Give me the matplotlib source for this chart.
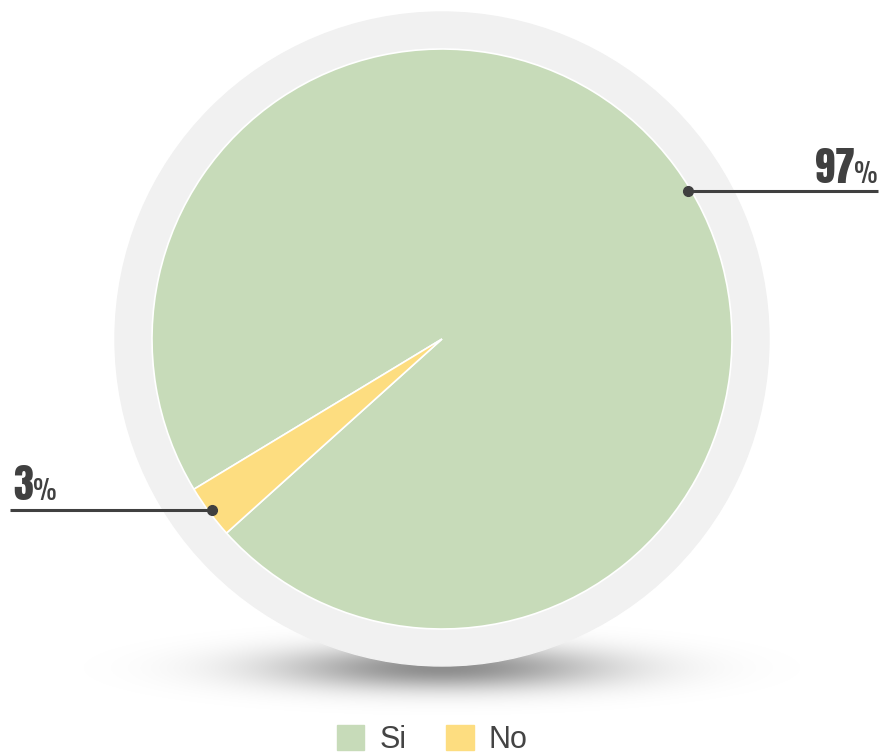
import matplotlib.pyplot as plt
import numpy as np
from matplotlib.patches import Circle

# data
categories = ["Si", "No"]
values = [97, 3]
colors = ["#c7dbb9", "#fddd80"]
labels = ["97%", "3%"]

W, H = 882, 754
fig = plt.figure(figsize=(W / 100, H / 100), dpi=100)
ax = fig.add_axes([0, 0, 1, 1])

cx, cy = 442, H - 339
r_pie, r_ring = 290, 327

# soft shadow under the ring
xs = np.linspace(0, W, 441)
ys = np.linspace(0, 200, 101)
X, Y = np.meshgrid(xs, ys)
alpha = 0.45 * np.exp(-((X - cx) / 165) ** 2 - ((Y - (H - 668)) / 22) ** 2)
rgba = np.zeros(X.shape + (4,))
rgba[..., 3] = alpha
ax.imshow(rgba, extent=(0, W, 0, 200), origin="lower", zorder=0, interpolation="bilinear")

ax.add_patch(Circle((cx, cy), r_ring, color="#f1f1f1", zorder=1))

wedges, _ = ax.pie(values, colors=colors, startangle=222, counterclock=True,
                   center=(cx, cy), radius=r_pie, frame=True,
                   wedgeprops=dict(edgecolor="white", linewidth=1.2, zorder=2))
ax.set_xlim(0, W)
ax.set_ylim(0, H)
ax.set_aspect("equal")
ax.axis("off")

txt_col = "#404040"
r_dot = 287
# label anchor angles (Si label sits off-centre, No at slice middle)
angles = [31, (wedges[1].theta1 + wedges[1].theta2) / 2]
ends = [878, 10]
kw_num = dict(color=txt_col, family="Anton", fontsize=29, zorder=6)
kw_pct = dict(color=txt_col, family="Oswald", fontweight="bold", fontsize=19, zorder=6)
for lab, ang, xe in zip(labels, angles, ends):
    px = cx + r_dot * np.cos(np.radians(ang))
    py = cy + r_dot * np.sin(np.radians(ang))
    ax.plot([px, xe], [py, py], color=txt_col, lw=2.2, zorder=5, solid_capstyle="butt")
    ax.plot(px, py, "o", color=txt_col, ms=7, zorder=6)
    num, pct = lab[:-1], lab[-1]
    if xe > px:
        t = ax.text(xe, py + 8, pct, ha="right", va="baseline", **kw_pct)
        fig.canvas.draw()
        bb = t.get_window_extent().transformed(ax.transData.inverted())
        ax.text(bb.x0, py + 8, num, ha="right", va="baseline", **kw_num)
    else:
        t = ax.text(xe + 3, py + 10, num, ha="left", va="baseline", **kw_num)
        fig.canvas.draw()
        bb = t.get_window_extent().transformed(ax.transData.inverted())
        ax.text(bb.x1, py + 10, pct, ha="left", va="baseline", **kw_pct)

handles = [plt.Rectangle((0, 0), 1, 1, color=c) for c in colors]
leg = ax.legend(handles, categories, loc="lower center", bbox_to_anchor=(0.49, -0.038),
                ncol=2, frameon=False, handlelength=0.9, handleheight=0.9,
                handletextpad=0.5, columnspacing=1.3, prop=dict(family="Liberation Sans", size=22))
for t in leg.get_texts():
    t.set_color("#444444")

fig.savefig("out.png", dpi=100)
